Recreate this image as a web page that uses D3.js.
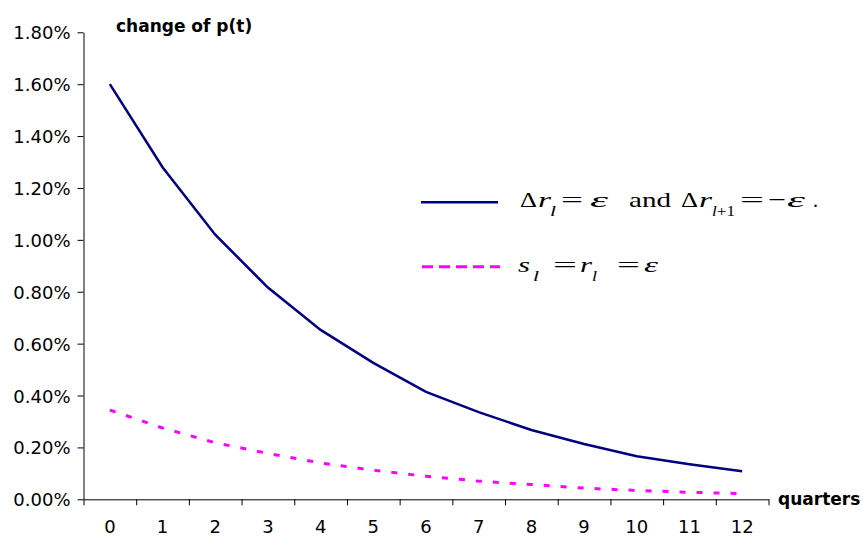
<!DOCTYPE html>
<html>
<head>
<meta charset="utf-8">
<script src="https://cdn.jsdelivr.net/npm/d3@7"></script>
<style>
  html, body { margin: 0; padding: 0; background: #fff; }
  svg { display: block; }
</style>
</head>
<body>
<svg id="chart" width="863" height="538"></svg>
<script>
// ---- data (values in percent) ----
const quarters = ["0","1","2","3","4","5","6","7","8","9","10","11","12"];
const seriesTwist = [1.60, 1.28, 1.02, 0.816, 0.653, 0.526, 0.414, 0.336, 0.267, 0.213, 0.166, 0.135, 0.108];
const seriesLevel = [0.344, 0.275, 0.218, 0.177, 0.140, 0.112, 0.089, 0.070, 0.057, 0.043, 0.034, 0.027, 0.022];
const yTickValues = [0, 0.2, 0.4, 0.6, 0.8, 1.0, 1.2, 1.4, 1.6, 1.8];
const yTitle = "change of p(t)";
const xTitle = "quarters";

(function () {
const svg = d3.select("#chart");
const pLeft = 83.5, pRight = 768.5, pTop = 32.3, pBottom = 499.3;

const x = d3.scaleBand().domain(quarters).range([pLeft, pRight]).padding(0);
const xEdge = d3.scaleLinear().domain([0, quarters.length]).range([pLeft, pRight]);
const y = d3.scaleLinear().domain([0, 1.8]).range([pBottom, pTop]);
const cx = q => x(q) + x.bandwidth() / 2;

const tickFont = "'DejaVu Sans', sans-serif";

// y axis
const gy = svg.append("g").attr("transform", `translate(${pLeft},0)`)
  .call(d3.axisLeft(y).tickValues(yTickValues).tickFormat(d => d.toFixed(2) + "%")
        .tickSize(6).tickSizeOuter(0).tickPadding(7));
gy.selectAll("text").attr("font-family", tickFont).attr("font-size", 18).attr("fill", "#000").attr("dy", "0.36em");
gy.selectAll("line,path").attr("stroke", "#000");

// x axis: tick marks at category edges
const gxt = svg.append("g").attr("transform", `translate(0,${pBottom})`)
  .call(d3.axisBottom(xEdge).tickValues(d3.range(quarters.length + 1)).tickFormat("")
        .tickSize(6).tickSizeOuter(0));
gxt.selectAll("line,path").attr("stroke", "#000");

// x axis labels at category centres
const gxl = svg.append("g").attr("transform", `translate(0,${pBottom})`)
  .call(d3.axisBottom(x).tickSize(0).tickPadding(0));
gxl.select(".domain").remove();
gxl.selectAll("text").attr("font-family", tickFont).attr("font-size", 18).attr("fill", "#000")
  .attr("y", 33.5).attr("dy", 0);

// titles
svg.append("text").attr("x", 116).attr("y", 32).attr("font-family", tickFont)
  .attr("font-weight", "bold").attr("font-size", 17).text(yTitle);
svg.append("text").attr("x", 778).attr("y", 505).attr("font-family", tickFont)
  .attr("font-weight", "bold").attr("font-size", 17).text(xTitle);

// lines
const line = d3.line().x((d, i) => cx(quarters[i])).y(d => y(d));
svg.append("path").datum(seriesTwist).attr("d", line)
  .attr("fill", "none").attr("stroke", "#000080").attr("stroke-width", 2.5);
svg.append("path").datum(seriesLevel).attr("d", line)
  .attr("fill", "none").attr("stroke", "#FF00FF").attr("stroke-width", 3)
  .attr("stroke-dasharray", "6,11");

// legend
const lg = svg.append("g");
lg.append("line").attr("x1", 421).attr("x2", 498).attr("y1", 202.3).attr("y2", 202.3)
  .attr("stroke", "#000080").attr("stroke-width", 2.5);
lg.append("line").attr("x1", 422).attr("x2", 500).attr("y1", 266.7).attr("y2", 266.7)
  .attr("stroke", "#FF00FF").attr("stroke-width", 3).attr("stroke-dasharray", "11,6");

const serif = "'Liberation Serif', 'Times New Roman', serif";
const row1 = [
  {t: "Δ", x: 520, w: 17}, {t: "r", x: 538, w: 13, it: 1}, {t: "l", x: 550, w: 6, it: 1, sub: 1},
  {t: "=", x: 561, w: 22}, {t: "ε", x: 590, w: 18, it: 1}, {t: "and", x: 629, w: 42},
  {t: "Δ", x: 681, w: 17}, {t: "r", x: 699, w: 13, it: 1}, {t: "l+1", x: 712, w: 23, sub: 1},
  {t: "=", x: 740, w: 24}, {t: "−", x: 768, w: 18}, {t: "ε", x: 787, w: 18, it: 1}, {t: ".", x: 813, w: 5}
];
const row2 = [
  {t: "s", x: 518, w: 12, it: 1}, {t: "l", x: 533, w: 6, it: 1, sub: 1},
  {t: "=", x: 553, w: 24}, {t: "r", x: 580, w: 12, it: 1}, {t: "l", x: 592, w: 5, it: 1, sub: 1},
  {t: "=", x: 617, w: 23}, {t: "ε", x: 644, w: 14, it: 1}
];
function drawRow(pieces, base) {
  pieces.forEach(p => {
    const txt = lg.append("text")
      .attr("x", p.x).attr("y", p.sub ? base + 8.5 : base)
      .attr("font-family", serif).attr("font-size", p.sub ? 15 : 22)
      .attr("font-style", p.it ? "italic" : "normal")
      .attr("textLength", p.w).attr("lengthAdjust", "spacingAndGlyphs")
      .attr("fill", "#000").text(p.t);
    if (p.t === "l+1") {
      txt.text(null);
      txt.append("tspan").attr("font-style", "italic").text("l");
      txt.append("tspan").text("+1");
    }
  });
}
drawRow(row1, 207);
drawRow(row2, 272);
})();
</script>
</body>
</html>
